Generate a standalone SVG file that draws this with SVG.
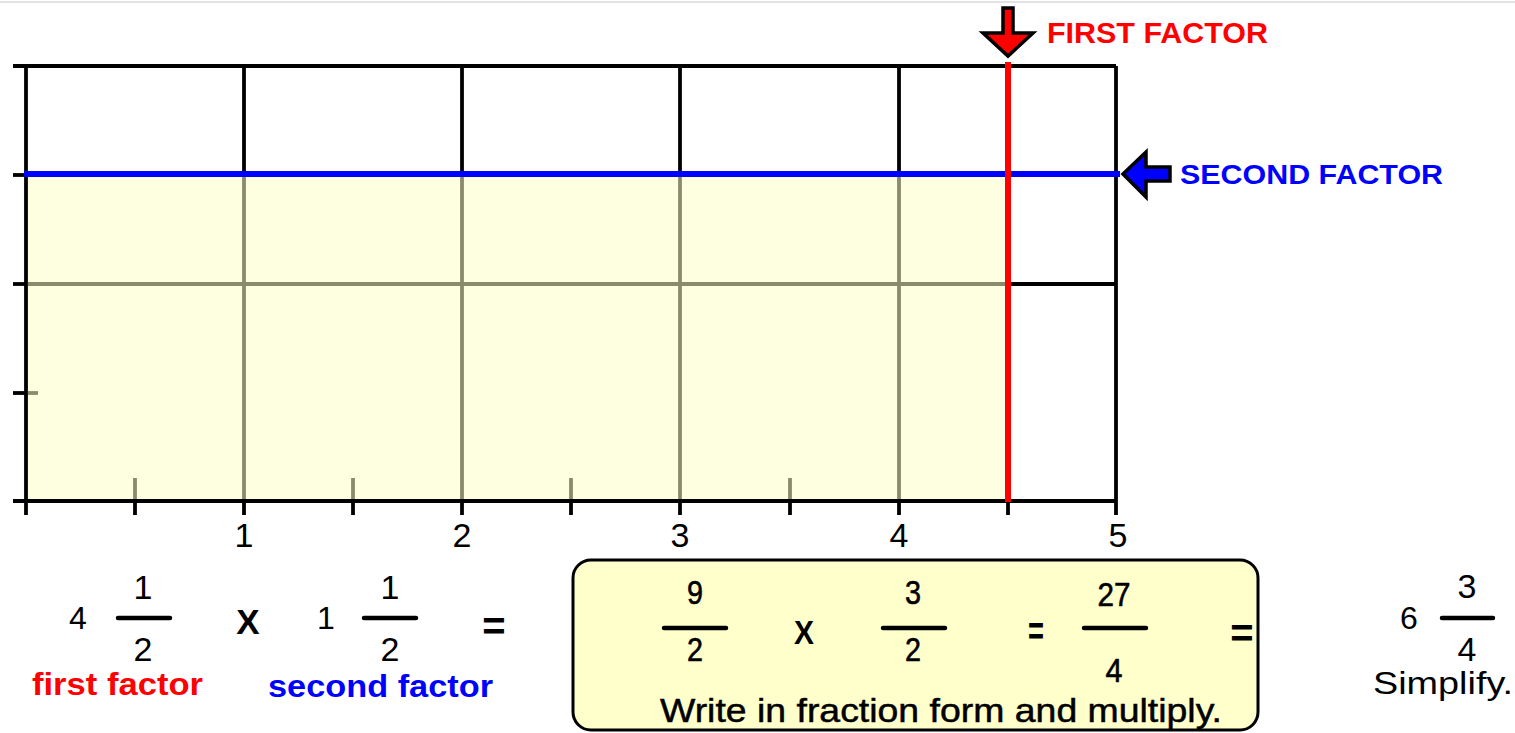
<svg xmlns="http://www.w3.org/2000/svg" width="1515" height="733" viewBox="0 0 1515 733">
<style>
.blk{stroke:#000;stroke-width:3.8;fill:none}
.olv{stroke:#8a8a6c;stroke-width:3.8;fill:none}
.t{font-family:"Liberation Sans",Arial,sans-serif;fill:#000}
.num{font-size:34px;text-anchor:middle}
.ax{font-size:34px;text-anchor:middle}
.bx{stroke:#000;stroke-width:0.6}
.bar{stroke:#000;stroke-width:4.5;stroke-linecap:round}
</style>
<rect width="1515" height="733" fill="#fff"/>
<line x1="0" y1="2" x2="1515" y2="2" stroke="#e2e2e2" stroke-width="2"/>
<g id="grid">
<rect x="26" y="175" width="982" height="326" fill="#fefee0"/>
<g class="blk">
<line x1="13" y1="66" x2="1116" y2="66"/>
<line x1="1008" y1="284" x2="1116" y2="284"/>
<line x1="26" y1="66" x2="26" y2="515"/>
<line x1="1116" y1="66" x2="1116" y2="515"/>
<line x1="244" y1="66" x2="244" y2="175"/>
<line x1="462" y1="66" x2="462" y2="175"/>
<line x1="680" y1="66" x2="680" y2="175"/>
<line x1="899" y1="66" x2="899" y2="175"/>
<line x1="13" y1="175" x2="26" y2="175"/>
<line x1="13" y1="284" x2="26" y2="284"/>
<line x1="13" y1="393" x2="26" y2="393"/>
<line x1="13" y1="501" x2="1116" y2="501"/>
<line x1="135" y1="501" x2="135" y2="515"/>
<line x1="244" y1="501" x2="244" y2="515"/>
<line x1="353" y1="501" x2="353" y2="515"/>
<line x1="462" y1="501" x2="462" y2="515"/>
<line x1="571" y1="501" x2="571" y2="515"/>
<line x1="680" y1="501" x2="680" y2="515"/>
<line x1="790" y1="501" x2="790" y2="515"/>
<line x1="899" y1="501" x2="899" y2="515"/>
<line x1="1008" y1="501" x2="1008" y2="515"/>
</g>
<g class="olv">
<line x1="28" y1="284" x2="1006" y2="284"/>
<line x1="28" y1="393" x2="38" y2="393"/>
<line x1="244" y1="177" x2="244" y2="499"/>
<line x1="462" y1="177" x2="462" y2="499"/>
<line x1="680" y1="177" x2="680" y2="499"/>
<line x1="899" y1="177" x2="899" y2="499"/>
<line x1="135" y1="478" x2="135" y2="499"/>
<line x1="353" y1="478" x2="353" y2="499"/>
<line x1="571" y1="478" x2="571" y2="499"/>
<line x1="790" y1="478" x2="790" y2="499"/>
</g>
<line x1="24" y1="174" x2="1120" y2="174" stroke="#0000ff" stroke-width="6"/>
<line x1="1008" y1="62" x2="1008" y2="502" stroke="#ff0000" stroke-width="6"/>
</g>
<g id="axis-labels" class="t ax">
<text x="244" y="547">1</text>
<text x="462" y="547">2</text>
<text x="680" y="547">3</text>
<text x="899" y="547">4</text>
<text x="1118" y="547">5</text>
</g>
<g id="first-factor-arrow">
<polygon points="1003,8 1013,8 1013,33 1033,33 1008,56 983,33 1003,33" fill="#ff0000" stroke="#000" stroke-width="3.5" stroke-linejoin="miter"/>
<text x="1047" y="43" class="t" font-size="29" font-weight="bold" style="fill:#ff0000" textLength="221" lengthAdjust="spacingAndGlyphs">FIRST FACTOR</text>
</g>
<g id="second-factor-arrow">
<polygon points="1123,174 1146,152 1146,167 1170,167 1170,181 1146,181 1146,197" fill="#0000ff" stroke="#000" stroke-width="3.5"/>
<text x="1180" y="184" class="t" font-size="27" font-weight="bold" style="fill:#0000ff" textLength="263" lengthAdjust="spacingAndGlyphs">SECOND FACTOR</text>
</g>
<g id="mixed-equation">
<text x="78" y="629" class="t" font-size="32" text-anchor="middle">4</text>
<text x="143" y="599" class="t num">1</text>
<line x1="118" y1="618" x2="170" y2="618" class="bar"/>
<text x="143" y="661" class="t num">2</text>
<text x="248" y="634" class="t" font-size="35" font-weight="bold" text-anchor="middle">X</text>
<text x="326" y="629" class="t" font-size="32" text-anchor="middle">1</text>
<text x="390" y="599" class="t num">1</text>
<line x1="364" y1="618" x2="416" y2="618" class="bar"/>
<text x="390" y="661" class="t num">2</text>
<text x="494" y="640" class="t" font-size="40" font-weight="bold" text-anchor="middle">=</text>
<text x="32" y="695" class="t" font-size="31" font-weight="bold" style="fill:#ff0000" textLength="171" lengthAdjust="spacingAndGlyphs">first factor</text>
<text x="268" y="697" class="t" font-size="31" font-weight="bold" style="fill:#0000ff" textLength="225" lengthAdjust="spacingAndGlyphs">second factor</text>
</g>
<g id="fraction-box">
<rect x="573" y="560" width="685" height="170" rx="18" ry="18" fill="#ffffcc" stroke="#000" stroke-width="3"/>
<text x="695" y="604" class="t num bx" textLength="16" lengthAdjust="spacingAndGlyphs">9</text>
<line x1="664" y1="628" x2="726" y2="628" class="bar"/>
<text x="695" y="661" class="t num bx" textLength="16" lengthAdjust="spacingAndGlyphs">2</text>
<text x="804" y="644" class="t" font-size="34" font-weight="bold" text-anchor="middle" textLength="20" lengthAdjust="spacingAndGlyphs">X</text>
<text x="913" y="604" class="t num bx" textLength="16" lengthAdjust="spacingAndGlyphs">3</text>
<line x1="883" y1="628" x2="945" y2="628" class="bar"/>
<text x="913" y="661" class="t num bx" textLength="16" lengthAdjust="spacingAndGlyphs">2</text>
<text x="1036" y="645" class="t" font-size="40" font-weight="bold" text-anchor="middle" textLength="16" lengthAdjust="spacingAndGlyphs">=</text>
<text x="1114" y="606" class="t num bx" textLength="33" lengthAdjust="spacingAndGlyphs">27</text>
<line x1="1084" y1="628" x2="1146" y2="628" class="bar"/>
<text x="1114" y="682" class="t num bx" textLength="17" lengthAdjust="spacingAndGlyphs">4</text>
<text x="1242" y="647" class="t" font-size="40" font-weight="bold" text-anchor="middle">=</text>
<text x="660" y="722" class="t" font-size="34" stroke="#000" stroke-width="0.5" textLength="562" lengthAdjust="spacingAndGlyphs">Write in fraction form and multiply.</text>
</g>
<g id="simplified">
<text x="1409" y="629" class="t" font-size="32" text-anchor="middle">6</text>
<text x="1467" y="598" class="t num">3</text>
<line x1="1442" y1="618" x2="1493" y2="618" class="bar"/>
<text x="1467" y="661" class="t num">4</text>
<text x="1373" y="694" class="t" font-size="32" textLength="140" lengthAdjust="spacingAndGlyphs">Simplify.</text>
</g>
</svg>
